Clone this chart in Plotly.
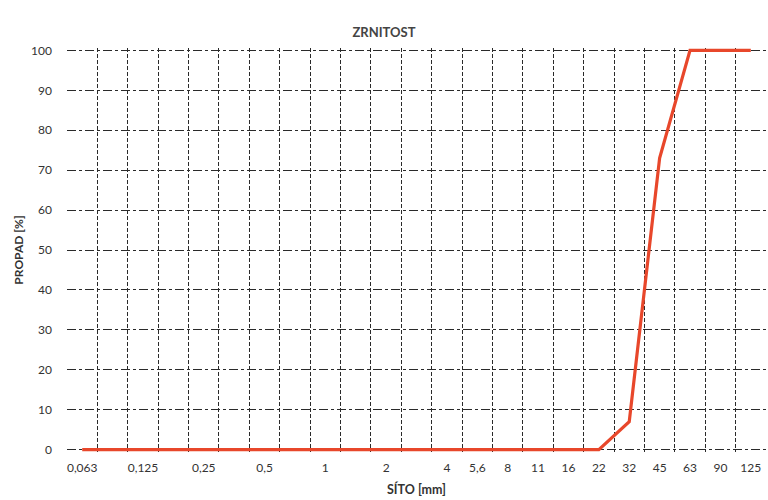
import plotly.graph_objects as go

# Sieve categories (unlabelled intermediate sieves shown as empty labels)
sieve_labels = ["0,063", "", "0,125", "", "0,25", "", "0,5", "", "1", "", "2", "",
                "4", "5,6", "8", "11", "16", "22", "32", "45", "63", "90", "125"]
passing_pct = [0, 0, 0, 0, 0, 0, 0, 0, 0, 0, 0, 0,
               0, 0, 0, 0, 0, 0, 7, 73, 100, 100, 100]
y_ticks = [0, 10, 20, 30, 40, 50, 60, 70, 80, 90, 100]

x_idx = list(range(len(sieve_labels)))
tick_pos = [i for i, s in enumerate(sieve_labels) if s]
tick_txt = [s for s in sieve_labels if s]

FONT = "Lato"

fig = go.Figure()
fig.add_trace(go.Scatter(
    x=x_idx, y=passing_pct, mode="lines",
    line=dict(color="#E8472B", width=3.2),
    hoverinfo="skip", showlegend=False,
))

fig.update_layout(
    width=768, height=500,
    margin=dict(l=67, r=2, t=47.6, b=47.6),
    paper_bgcolor="white", plot_bgcolor="white",
    font=dict(family=FONT, color="#333333"),
    title=dict(text="<b>ZRNITOST</b>", x=0.5, xanchor="center", y=0.935, yanchor="middle",
               font=dict(family=FONT, size=13, color="#444444")),
)

fig.update_xaxes(
    automargin=False,
    range=[-0.5, len(sieve_labels) - 0.5],
    tickmode="array", tickvals=tick_pos, ticktext=tick_txt,
    showgrid=False, zeroline=False, ticks="",
    tickfont=dict(size=12, color="#333333"),
    ticklabelstandoff=7,
    showline=False,
    minor=dict(tick0=-0.5, dtick=1, showgrid=True, gridcolor="#2a2a2a",
               gridwidth=1, griddash="4px,2px"),
    title=dict(text="<b>SÍTO [mm]</b>", font=dict(family=FONT, size=12.5, color="#333333"),
               standoff=11),
)

fig.update_yaxes(
    automargin=False,
    range=[-0.6, 100.6],
    tickmode="array", tickvals=y_ticks,
    showgrid=True, gridcolor="#2a2a2a", gridwidth=1, griddash="dashdot",
    zeroline=False, ticks="",
    tickfont=dict(size=12, color="#333333"),
    ticklabelstandoff=14,
    title=dict(text="<b>PROPAD [%]</b>", font=dict(family=FONT, size=12, color="#333333"),
               standoff=4),
)

fig.write_html("out.html", config={"displayModeBar": False},
               post_script="document.body.style.margin='0';")
